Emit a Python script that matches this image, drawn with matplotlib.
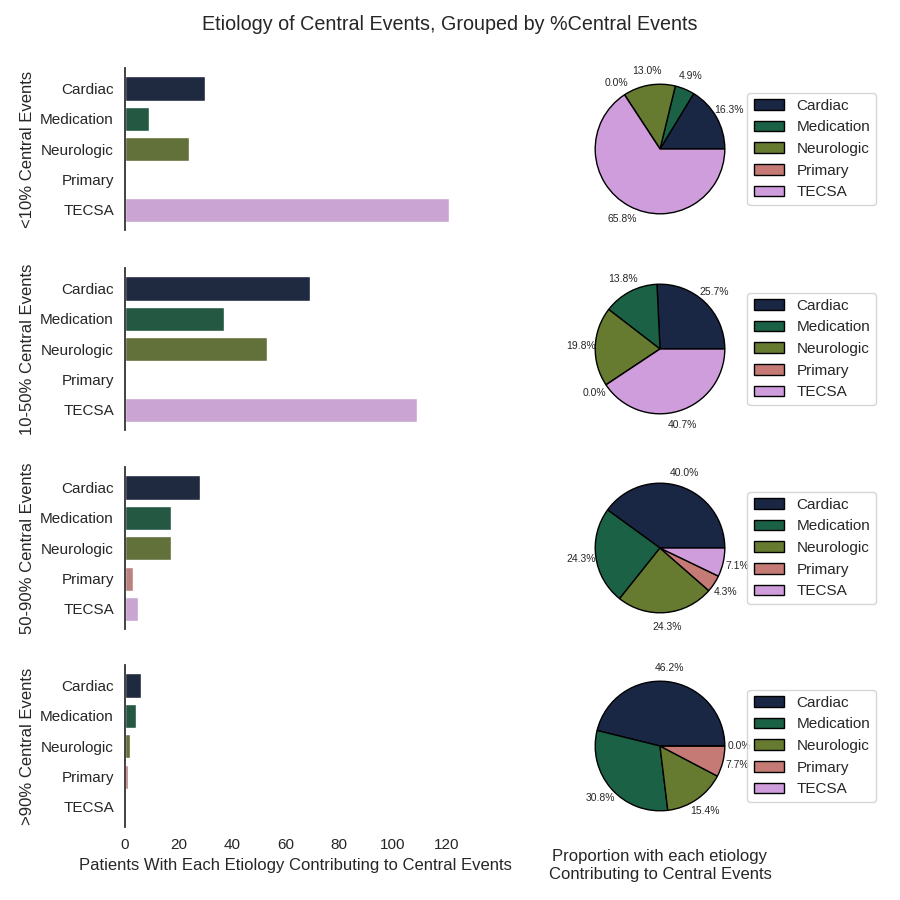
import numpy as np
import pandas as pd
import seaborn as sns
from matplotlib import pyplot as plt

etiologies = ["Cardiac", "Medication", "Neurologic", "Primary", "TECSA"]
group_labels = ["<10% Central Events", "10-50% Central Events",
                "50-90% Central Events", ">90% Central Events"]

# patient counts per etiology, one list per group
counts_lt10 = [30, 9, 24, 0, 121]
counts_10_50 = [69, 37, 53, 0, 109]
counts_50_90 = [28, 17, 17, 3, 5]
counts_gt90 = [6, 4, 2, 1, 0]
all_counts = [counts_lt10, counts_10_50, counts_50_90, counts_gt90]

xticks = [0, 20, 40, 60, 80, 100, 120]

sns.set_theme(style="white", context="notebook")
plt.rcParams['font.family'] = ['Liberation Sans', 'DejaVu Sans']

# slice of the cubehelix map that the reference uses
pal = [tuple(c[:3]) for c in plt.cm.cubehelix(np.linspace(0.15, 0.7, len(etiologies)))]

fig = plt.figure(figsize=(9, 9), dpi=100)
fig.suptitle("Etiology of Central Events, Grouped by %Central Events",
             fontsize=14.2, y=0.983)

# row placement in figure pixels (top of axes)
row_tops = [68, 268, 467, 665]
row_h = 162

bar_axes = []
for i, (label, counts) in enumerate(zip(group_labels, all_counts)):
  top = row_tops[i]
  bottom = 1 - (top + row_h) / 900
  share = bar_axes[0] if bar_axes else None
  ax = fig.add_axes([125 / 900, bottom, 340 / 900, row_h / 900], sharex=share)
  df = pd.DataFrame({"etiology": etiologies, "n": counts})
  sns.barplot(data=df, x="n", y="etiology", hue="etiology", palette=pal,
              legend=False, orient="h", ax=ax)
  ax.set_ylim(4.66, -0.68)
  ax.set_ylabel(label, fontsize=12)
  ax.tick_params(axis="y", length=0, pad=8)
  ax.tick_params(axis="x", length=0, pad=8)
  for s in ["top", "right", "bottom"]:
    ax.spines[s].set_visible(False)
  ax.spines["left"].set_color("#333333")
  ax.spines["left"].set_linewidth(1.3)
  ax.set_xticks(xticks)
  ax.set_xlim(0, 127)
  if i < 3:
    ax.set_xlabel("")
    ax.tick_params(axis="x", labelbottom=False)
  else:
    ax.set_xlabel("Patients With Each Etiology Contributing to Central Events",
                  fontsize=12)
  bar_axes.append(ax)

  # pie for the same group
  pax = fig.add_axes([579 / 900, bottom, row_h / 900, row_h / 900])
  wedges, _, autotexts = pax.pie(
    counts, colors=pal, autopct="%1.1f%%", pctdistance=1.22,
    wedgeprops={"edgecolor": "black", "linewidth": 1},
    textprops={"fontsize": 7.5})
  pax.legend(wedges, etiologies, loc="center left",
             bbox_to_anchor=(1.04, 0.5), borderaxespad=0, fontsize=11)
  if i == 3:
    pax.set_xlabel("Proportion with each etiology\nContributing to Central Events",
                   fontsize=12, labelpad=16)

fig.savefig("out.png", dpi=100)
